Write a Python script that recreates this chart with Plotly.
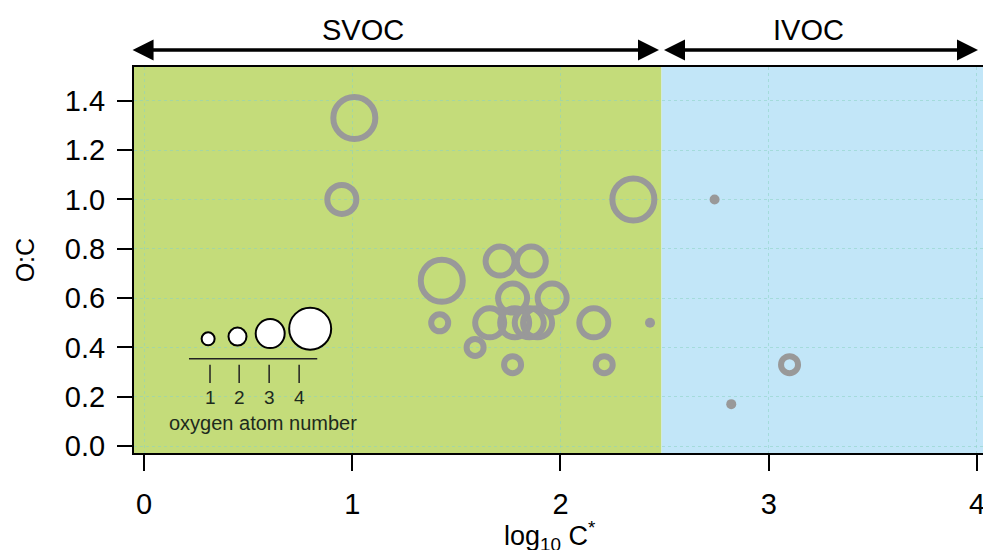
import plotly.graph_objects as go

# compounds: volatility (log10 C*), O:C ratio and number of oxygen atoms
log_c = [1.01, 0.95, 2.35, 1.43, 1.71, 1.86, 1.77, 1.96, 1.42, 1.66,
         1.78, 1.85, 1.89, 2.16, 1.59, 1.77, 2.21, 2.43, 2.74, 2.82, 3.10]
o_to_c = [1.33, 1.00, 1.00, 0.67, 0.75, 0.75, 0.60, 0.60, 0.50, 0.50,
          0.50, 0.50, 0.50, 0.50, 0.40, 0.33, 0.33, 0.50, 1.00, 0.17, 0.33]
n_oxygen = [4, 3, 4, 4, 3, 3, 3, 3, 2, 3,
            3, 3, 3, 3, 2, 2, 2, 1, 1, 1, 2]

# volatility classes
class_names = ["SVOC", "IVOC"]
class_bounds = [(-0.062, 2.473), (2.49, 4.005)]
class_label_x = [1.05, 3.19]
class_colors = ["#c4dc7a", "#c2e6f8"]
svoc_ivoc_split = 2.485

x_ticks = [0, 1, 2, 3, 4]
y_ticks = [0.0, 0.2, 0.4, 0.6, 0.8, 1.0, 1.2, 1.4]
legend_numbers = [1, 2, 3, 4]

ring_size = {2: 17, 3: 29, 4: 42}
legend_size = {1: 13, 2: 18, 3: 29, 4: 42}
GRAY = "#999999"
GRID = "rgba(140,210,195,0.55)"
FONT = "Arial"

fig = go.Figure()

# coloured class backgrounds
fig.add_shape(type="rect", xref="x", yref="paper", x0=-1, x1=svoc_ivoc_split,
              y0=0, y1=1, fillcolor=class_colors[0], line_width=0, layer="below")
fig.add_shape(type="rect", xref="x", yref="paper", x0=svoc_ivoc_split, x1=5,
              y0=0, y1=1, fillcolor=class_colors[1], line_width=0, layer="below")

# rings (2+ oxygens) and dots (1 oxygen)
rx = [x for x, n in zip(log_c, n_oxygen) if n > 1]
ry = [y for y, n in zip(o_to_c, n_oxygen) if n > 1]
rs = [ring_size[n] for n in n_oxygen if n > 1]
dx = [x for x, n in zip(log_c, n_oxygen) if n == 1]
dy = [y for y, n in zip(o_to_c, n_oxygen) if n == 1]

fig.add_trace(go.Scatter(
    x=rx, y=ry, mode="markers", hoverinfo="skip",
    marker=dict(symbol="circle-open", size=rs, color=GRAY, opacity=1,
                line=dict(width=6, color=GRAY))
))
fig.add_trace(go.Scatter(
    x=dx, y=dy, mode="markers", hoverinfo="skip",
    marker=dict(symbol="circle", size=10, color=GRAY, opacity=1, line=dict(width=0))
))

# size key: oxygen atom number
key_x = [0.308, 0.449, 0.606, 0.798]
key_y = [0.435, 0.444, 0.456, 0.476]
fig.add_trace(go.Scatter(
    x=key_x, y=key_y, mode="markers", hoverinfo="skip",
    marker=dict(symbol="circle", size=[legend_size[n] for n in legend_numbers],
                color="white", opacity=1, line=dict(width=2, color="black"))
))
fig.add_shape(type="line", xref="x", yref="y", x0=0.216, x1=0.832, y0=0.354, y1=0.354,
              line=dict(color="#222222", width=1.5))
tick_x = [0.317, 0.457, 0.601, 0.745]
for tx, n in zip(tick_x, legend_numbers):
    fig.add_shape(type="line", xref="x", yref="y", x0=tx, x1=tx, y0=0.256, y1=0.330,
                  line=dict(color="#222222", width=1.5))
    fig.add_annotation(x=tx, y=0.197, xref="x", yref="y", text=str(n), showarrow=False,
                       yanchor="middle", font=dict(family=FONT, size=19, color="#1d2a1d"))
fig.add_annotation(x=0.572, y=0.094, xref="x", yref="y", text="oxygen atom number",
                   showarrow=False, yanchor="middle",
                   font=dict(family=FONT, size=20, color="#1d2a1d"))

# class arrows above the plot
for name, (x0, x1), lx in zip(class_names, class_bounds, class_label_x):
    fig.add_annotation(x=x1, y=1.044, ax=x0, ay=0, xref="x", yref="paper",
                       axref="x", ayref="pixel", text="", showarrow=True,
                       arrowhead=2, startarrowhead=2, arrowside="end+start",
                       arrowsize=1.2, startarrowsize=1.2, arrowwidth=3.5, arrowcolor="black")
    fig.add_annotation(x=lx, y=1.096, xref="x", yref="paper", text=name, showarrow=False,
                       yanchor="middle", font=dict(family=FONT, size=29, color="black"))

# axis titles
fig.add_annotation(x=1.95, y=-0.215, xref="x", yref="paper", yanchor="middle",
                   text="log<sub>10</sub> C<sup>*</sup>", showarrow=False,
                   font=dict(family=FONT, size=27, color="black"))
fig.add_annotation(x=-0.128, y=0.5, xref="paper", yref="paper", text="O:C", textangle=-90,
                   showarrow=False, xanchor="center", yanchor="middle",
                   font=dict(family=FONT, size=25, color="black"))

fig.update_layout(
    width=983, height=550,
    margin=dict(l=134, r=0, t=67, b=97, autoexpand=False),
    paper_bgcolor="white", plot_bgcolor="rgba(0,0,0,0)",
    showlegend=False,
    font=dict(family=FONT, color="black"),
    xaxis=dict(range=[-0.048, 4.029], tickvals=x_ticks, ticks="outside", ticklen=16,
               tickwidth=2, tickcolor="black", tickfont=dict(size=29),
               showline=True, linecolor="black", linewidth=2, mirror=True,
               showgrid=True, gridcolor=GRID, griddash="dot",
               zeroline=False, ticklabelstandoff=8, automargin=False,
               ticklabeloverflow="allow"),
    yaxis=dict(range=[-0.028, 1.537], tickvals=y_ticks, tickformat=".1f",
               ticks="outside", ticklen=15, tickwidth=2, tickcolor="black",
               tickfont=dict(size=29), showline=True, linecolor="black", linewidth=2,
               mirror=True, showgrid=True, gridcolor=GRID,
               griddash="dot", zeroline=False, ticklabelstandoff=6, automargin=False),
)

# drop the browser's default body margin so the figure sits at the page origin
fig.write_html("out.html", config={"displayModeBar": False},
               post_script="document.body.style.margin='0';")
